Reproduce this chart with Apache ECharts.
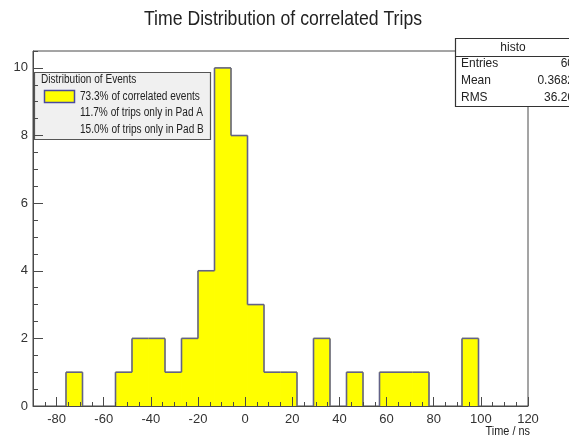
<!DOCTYPE html>
<html>
<head>
<meta charset="utf-8">
<script src="https://cdn.jsdelivr.net/npm/echarts@6/dist/echarts.min.js"></script>
<style>
  html, body { margin: 0; padding: 0; background: #fff; }
  #chart { width: 569px; height: 436px; }
</style>
</head>
<body>
<div id="chart"></div>
<script>
// Histogram binning (7 ns bins from -90 to 120 ns) and the counts per bin
const binEdges = [-90, -83, -76, -69, -62, -55, -48, -41, -34, -27, -20, -13, -6, 1, 8, 15,
                  22, 29, 36, 43, 50, 57, 64, 71, 78, 85, 92, 99, 106, 113, 120];
const counts = [0, 0, 1, 0, 0, 1, 2, 2, 1, 2, 4, 10, 8, 3, 1, 1,
                0, 2, 0, 1, 0, 1, 1, 1, 0, 0, 2, 0, 0, 0];

// Axis ticks
const xMajorTicks = [-80, -60, -40, -20, 0, 20, 40, 60, 80, 100, 120];
const yMajorTicks = [0, 2, 4, 6, 8, 10];

// Texts
const titleText = 'Time Distribution of correlated Trips';
const xAxisTitle = 'Time / ns';
const legendHeader = 'Distribution of Events';
const legendEntries = ['73.3% of correlated events', '11.7% of trips only in Pad A', '15.0% of trips only in Pad B'];
const statsName = 'histo';
const statsLabels = ['Entries', 'Mean', 'RMS'];
const statsValues = ['60', '0.3682', '36.26'];

const FONT = "'Liberation Sans', Arial, Helvetica, sans-serif";
const FRAME = '#4a4a4a';
const FILL = '#ffff00';
const OUTLINE = '#626288';
const SQUEEZE = 0.84; // condensed look of the text

const histData = counts.map((c, i) => [binEdges[i], binEdges[i + 1], c, i > 0 ? counts[i - 1] : 0, i]);

function label(x, y, text, size, align, squeeze, extra) {
  return Object.assign({
    type: 'text', x: x, y: y, scaleX: squeeze || SQUEEZE,
    style: { text: text, fontSize: size, fontFamily: FONT, fill: '#222', align: align || 'left', verticalAlign: 'middle' }
  }, extra || {});
}

const chart = echarts.init(document.getElementById('chart'), null, { renderer: 'canvas' });

const axisCommon = { z: 5, splitLine: { show: false } };

chart.setOption({
  animation: false,
  backgroundColor: '#ffffff',
  grid: {
    left: 33, right: 41, top: 51, bottom: 30,
    show: true, borderColor: FRAME, borderWidth: 1, backgroundColor: 'transparent'
  },
  xAxis: [
    Object.assign({}, axisCommon, {
      type: 'value', min: -90, max: 120, position: 'bottom',
      axisLine: { show: true, onZero: false, lineStyle: { color: FRAME, width: 1 } },
      axisTick: { show: true, inside: true, length: 9, customValues: xMajorTicks, lineStyle: { color: FRAME } },
      axisLabel: { show: true, customValues: xMajorTicks, fontSize: 13, color: '#333', margin: 7, fontFamily: FONT }
    }),
    Object.assign({}, axisCommon, {
      type: 'value', min: -90, max: 120, interval: 5, position: 'bottom',
      axisLine: { show: false, onZero: false },
      axisTick: { show: true, inside: true, length: 4, lineStyle: { color: FRAME } },
      axisLabel: { show: false }
    })
  ],
  yAxis: [
    Object.assign({}, axisCommon, {
      type: 'value', min: 0, max: 10.5, position: 'left',
      axisLine: { show: true, onZero: false, lineStyle: { color: FRAME, width: 1 } },
      axisTick: { show: true, inside: true, length: 10, customValues: yMajorTicks, lineStyle: { color: FRAME } },
      axisLabel: { show: true, customValues: yMajorTicks, fontSize: 13, color: '#333', margin: 5, fontFamily: FONT }
    }),
    Object.assign({}, axisCommon, {
      type: 'value', min: 0, max: 10.5, interval: 0.5, position: 'left',
      axisLine: { show: false, onZero: false },
      axisTick: { show: true, inside: true, length: 5, lineStyle: { color: FRAME } },
      axisLabel: { show: false }
    })
  ],
  series: [
    {
      // bin fills
      type: 'custom', xAxisIndex: 0, yAxisIndex: 0, z: 2,
      data: histData,
      renderItem: function (params, api) {
        const lo = api.value(0), hi = api.value(1), h = api.value(2);
        if (h <= 0) return null;
        const a = api.coord([lo, 0]);
        const b = api.coord([hi, h]);
        return {
          type: 'rect',
          shape: { x: a[0], y: b[1], width: b[0] - a[0], height: a[1] - b[1] },
          style: { fill: FILL, stroke: FILL, lineWidth: 0.8 }
        };
      }
    },
    {
      // histogram contour: top of each bin plus the step up/down at its left edge
      type: 'custom', xAxisIndex: 0, yAxisIndex: 0, z: 3,
      data: histData,
      renderItem: function (params, api) {
        const lo = api.value(0), hi = api.value(1), h = api.value(2), prev = api.value(3), idx = api.value(4);
        const children = [];
        const st = { stroke: OUTLINE, lineWidth: 1.6, fill: null };
        if (h > 0) {
          const p = api.coord([lo, h]), q = api.coord([hi, h]);
          children.push({ type: 'line', shape: { x1: p[0], y1: p[1], x2: q[0], y2: q[1] }, style: st });
        }
        if (h !== prev) {
          const p = api.coord([lo, prev]), q = api.coord([lo, h]);
          children.push({ type: 'line', shape: { x1: p[0], y1: p[1], x2: q[0], y2: q[1] }, style: st });
        }
        if (idx === counts.length - 1 && h > 0) {
          const p = api.coord([hi, h]), q = api.coord([hi, 0]);
          children.push({ type: 'line', shape: { x1: p[0], y1: p[1], x2: q[0], y2: q[1] }, style: st });
        }
        return { type: 'group', children: children };
      }
    }
  ],
  graphic: [
    label(283, 19, titleText, 21, 'center', SQUEEZE, { z: 10 }),
    label(530, 431, xAxisTitle, 13, 'right', SQUEEZE, { z: 10 }),
    // legend box
    {
      type: 'group', z: 20,
      children: [
        { type: 'rect', shape: { x: 34.5, y: 72.5, width: 176, height: 67 },
          style: { fill: '#f0f0f0', stroke: '#555', lineWidth: 1.2 } },
        label(41, 80, legendHeader, 12),
        { type: 'rect', shape: { x: 44.5, y: 90.5, width: 30, height: 12 },
          style: { fill: FILL, stroke: '#4a4aa0', lineWidth: 1.5 } },
        label(80, 97, legendEntries[0], 12),
        label(80, 113, legendEntries[1], 12),
        label(80, 130, legendEntries[2], 12)
      ]
    },
    // statistics box
    {
      type: 'group', z: 20,
      children: [
        { type: 'rect', shape: { x: 455.5, y: 38.5, width: 140, height: 68 },
          style: { fill: '#ffffff', stroke: '#333', lineWidth: 1.2 } },
        { type: 'line', shape: { x1: 455.5, y1: 56.5, x2: 600, y2: 56.5 },
          style: { stroke: '#333', lineWidth: 1.2 } },
        label(513, 47, statsName, 13, 'center', 0.92),
        label(461, 63, statsLabels[0], 13, 'left', 0.92),
        label(461, 80, statsLabels[1], 13, 'left', 0.92),
        label(461, 97, statsLabels[2], 13, 'left', 0.92),
        label(574, 63, statsValues[0], 13, 'right', 0.92),
        label(574, 80, statsValues[1], 13, 'right', 0.92),
        label(574, 97, statsValues[2], 13, 'right', 0.92)
      ]
    }
  ]
});
</script>
</body>
</html>
